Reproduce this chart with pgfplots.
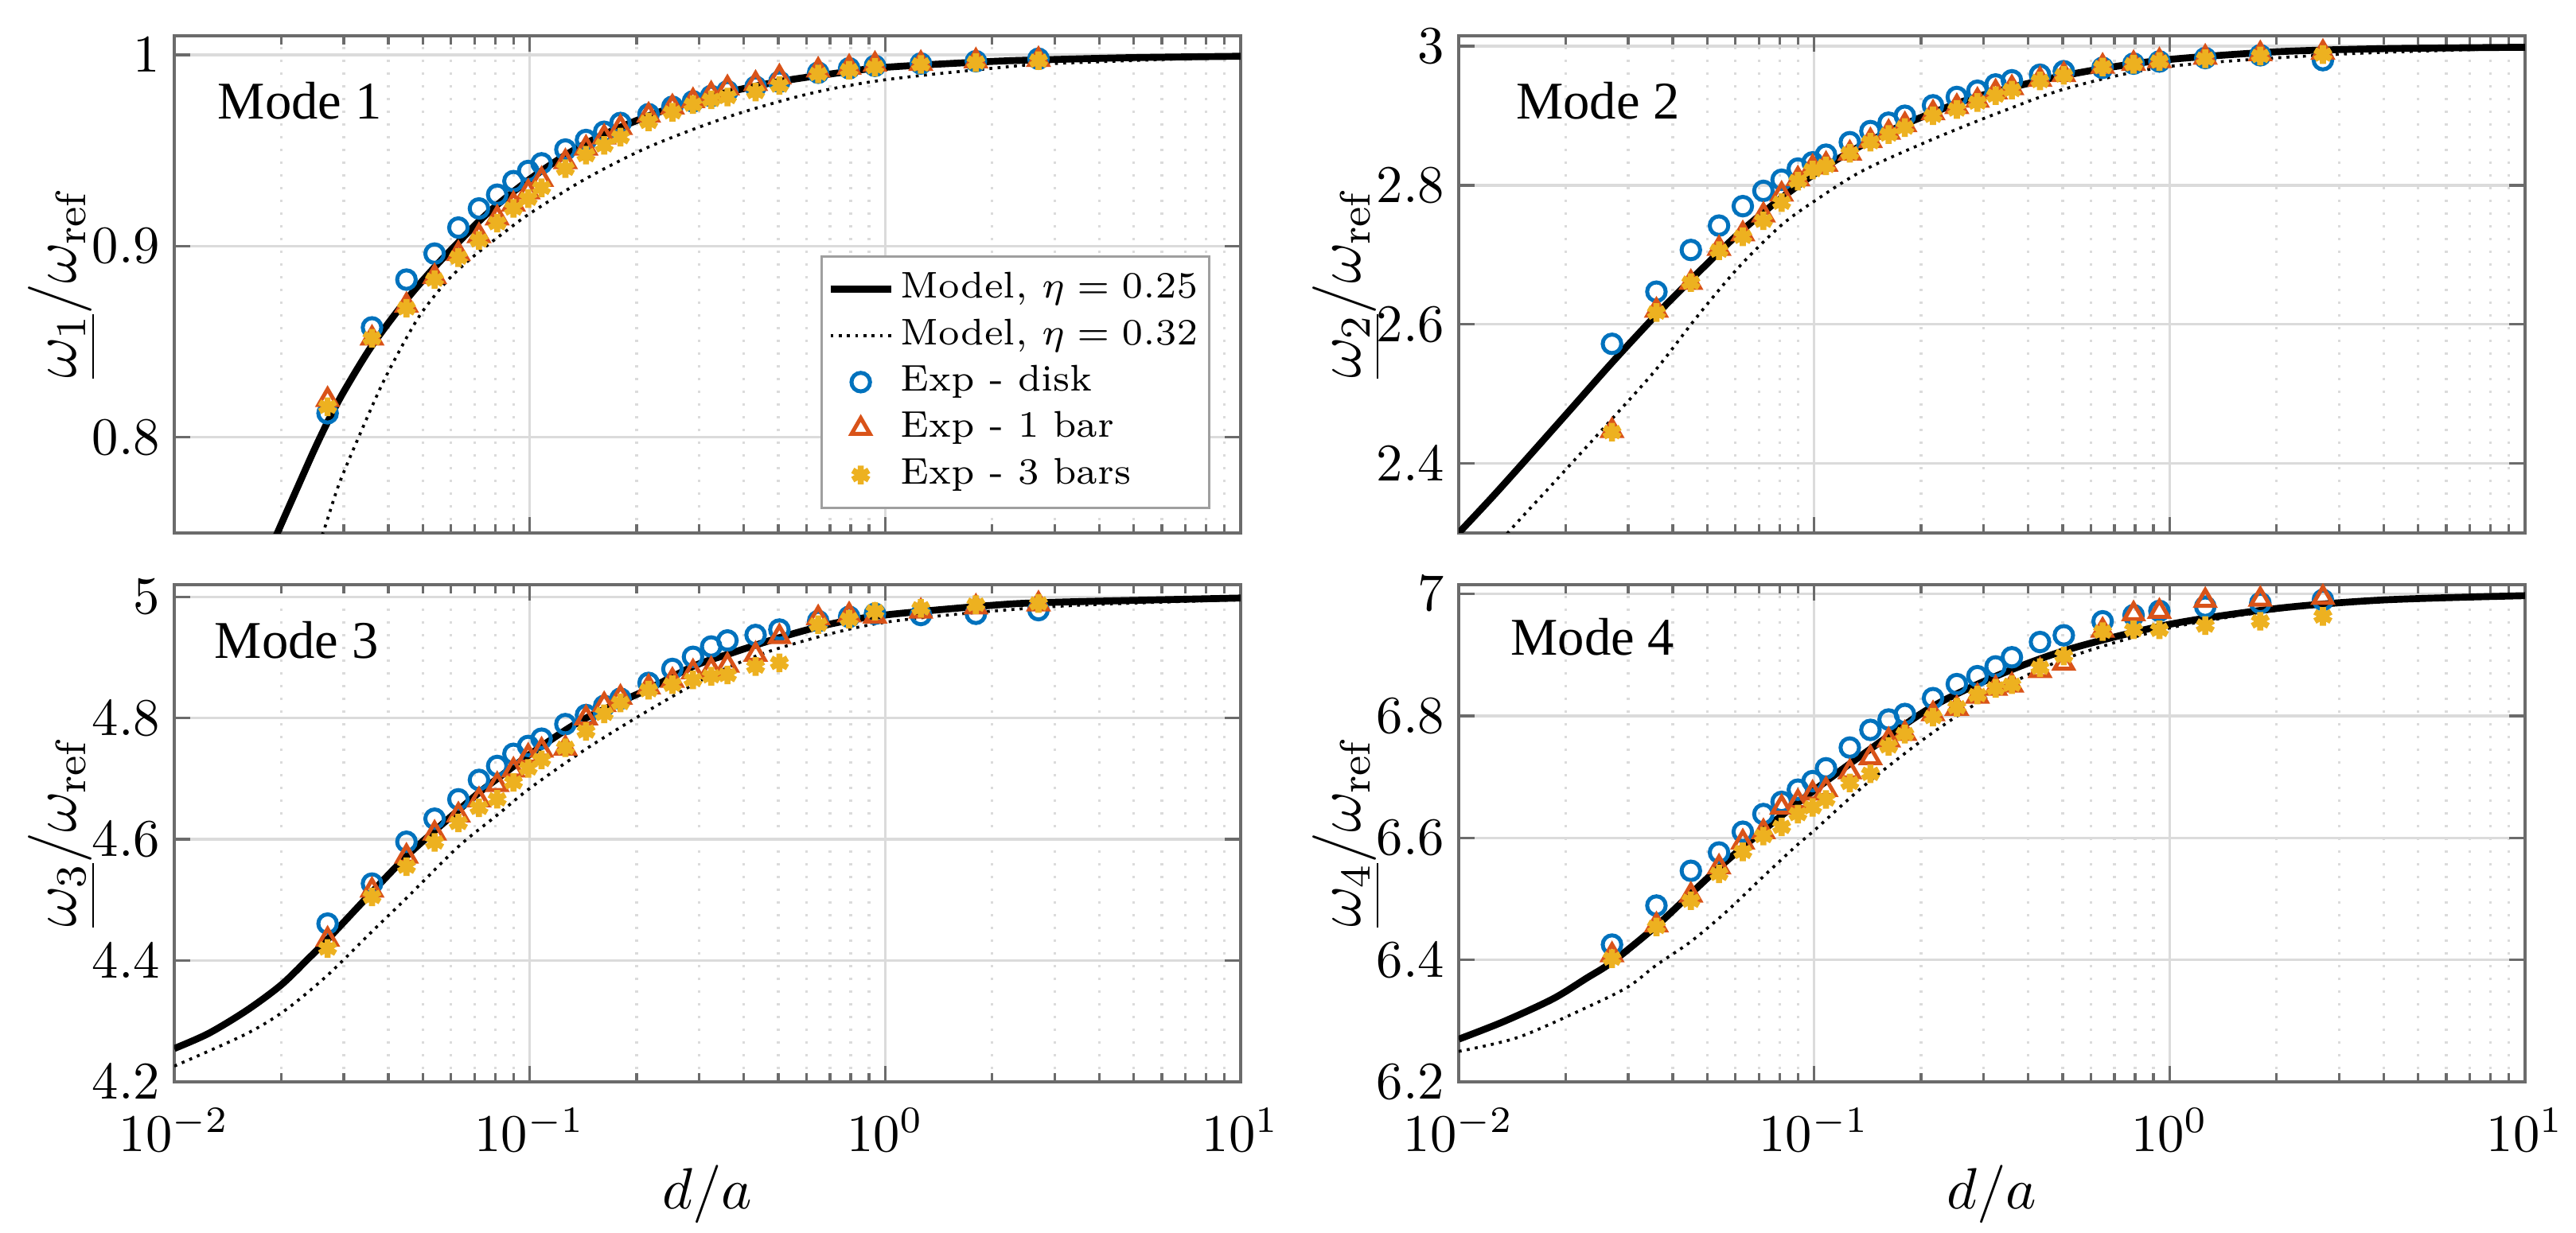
\documentclass[border=0pt]{standalone}
\usepackage{pgfplots}
\pgfplotsset{compat=1.18}
\usepackage{pgfplotstable}
\usepackage{fontspec}
\newfontfamily\modefont{Liberation Serif}
\definecolor{mblue}{rgb}{0,0.447,0.741}
\definecolor{mred}{rgb}{0.85,0.325,0.098}
\definecolor{myel}{rgb}{0.929,0.694,0.125}
\definecolor{gridc}{gray}{0.86}
\definecolor{axc}{gray}{0.42}

\pgfplotstableread{
x disk tri ast
0.027 0.8126 0.8197 0.8160
0.036 0.8575 0.8518 0.8518
0.045 0.8825 0.8690 0.8675
0.054 0.8961 0.8840 0.8825
0.063 0.9097 0.8960 0.8940
0.072 0.9197 0.9054 0.9030
0.081 0.9269 0.9147 0.9120
0.090 0.9340 0.9219 0.9197
0.099 0.9393 0.9283 0.9248
0.108 0.9433 0.9348 0.9305
0.126 0.9505 0.9441 0.9405
0.144 0.9555 0.9512 0.9476
0.162 0.9598 0.9570 0.9527
0.180 0.9644 0.9620 0.9570
0.216 0.9690 0.9684 0.9650
0.252 0.9729 0.9727 0.9700
0.288 0.9757 0.9760 0.9740
0.324 0.9785 0.9795 0.9765
0.360 0.9810 0.9827 0.9780
0.432 0.9834 0.9850 0.9806
0.504 0.9860 0.9884 0.9840
0.648 0.9907 0.9920 0.9900
0.792 0.9930 0.9935 0.9920
0.936 0.9943 0.9950 0.9936
1.260 0.9955 0.9955 0.9950
1.800 0.9967 0.9968 0.9960
2.700 0.9980 0.9975 0.9970
}\modeA

\pgfplotstableread{
x disk tri ast
0.027 2.572 2.447 2.445
0.036 2.647 2.620 2.617
0.045 2.707 2.660 2.660
0.054 2.742 2.709 2.706
0.063 2.770 2.730 2.726
0.072 2.792 2.757 2.749
0.081 2.808 2.787 2.775
0.090 2.824 2.809 2.806
0.099 2.833 2.826 2.822
0.108 2.844 2.830 2.828
0.126 2.862 2.846 2.846
0.144 2.878 2.864 2.862
0.162 2.890 2.876 2.873
0.180 2.900 2.887 2.883
0.216 2.915 2.904 2.900
0.252 2.927 2.913 2.909
0.288 2.936 2.922 2.919
0.324 2.945 2.934 2.929
0.360 2.951 2.940 2.937
0.432 2.959 2.952 2.950
0.504 2.964 2.959 2.958
0.648 2.969 2.971 2.970
0.792 2.975 2.975 2.974
0.936 2.978 2.979 2.978
1.260 2.983 2.984 2.982
1.800 2.987 2.989 2.986
2.700 2.980 2.991 2.988
}\modeB

\pgfplotstableread{
x disk tri ast
0.027 4.461 4.435 4.420
0.036 4.527 4.516 4.505
0.045 4.596 4.572 4.555
0.054 4.634 4.610 4.595
0.063 4.666 4.640 4.627
0.072 4.698 4.665 4.652
0.081 4.721 4.690 4.666
0.090 4.741 4.714 4.694
0.099 4.754 4.737 4.717
0.108 4.766 4.747 4.731
0.126 4.790 4.750 4.751
0.144 4.805 4.800 4.778
0.162 4.820 4.822 4.807
0.180 4.832 4.834 4.825
0.216 4.858 4.851 4.846
0.252 4.881 4.862 4.855
0.288 4.901 4.876 4.863
0.324 4.918 4.880 4.869
0.360 4.928 4.887 4.871
0.432 4.937 4.905 4.885
0.504 4.946 4.934 4.891
0.648 4.960 4.965 4.954
0.792 4.967 4.970 4.963
0.936 4.972 4.968 4.976
1.260 4.970 4.976 4.981
1.800 4.972 4.983 4.987
2.700 4.978 4.988 4.989
}\modeC

\pgfplotstableread{
x disk tri ast
0.027 6.425 6.408 6.402
0.036 6.489 6.457 6.454
0.045 6.546 6.506 6.497
0.054 6.576 6.552 6.541
0.063 6.610 6.593 6.577
0.072 6.639 6.610 6.603
0.081 6.659 6.650 6.618
0.090 6.679 6.659 6.639
0.099 6.693 6.673 6.650
0.108 6.714 6.679 6.663
0.126 6.748 6.708 6.690
0.144 6.777 6.731 6.705
0.162 6.794 6.760 6.750
0.180 6.803 6.771 6.770
0.216 6.829 6.803 6.798
0.252 6.852 6.812 6.814
0.288 6.865 6.832 6.834
0.324 6.881 6.845 6.845
0.360 6.896 6.850 6.851
0.432 6.921 6.874 6.879
0.504 6.932 6.886 6.898
0.648 6.955 6.940 6.938
0.792 6.965 6.967 6.941
0.936 6.972 6.971 6.941
1.260 6.979 6.989 6.948
1.800 6.985 6.991 6.955
2.700 6.990 6.994 6.963
}\modeD

\pgfplotsset{
  mypanel/.style={
    scale only axis, width=201pt, height=93.75pt,
    xmin=0.01, xmax=10,
    xtick={0.01,0.1,1,10},
    minor xtick={0.02,0.03,0.04,0.05,0.06,0.07,0.08,0.09,0.2,0.3,0.4,0.5,0.6,0.7,0.8,0.9,2,3,4,5,6,7,8,9},
    axis line style={axc, line width=0.6pt},
    tick style={axc, line width=0.5pt},
    tick align=inside,
    major tick length=3pt, minor tick length=1.7pt,
    xmajorgrids=true, xminorgrids=true, ymajorgrids=true,
    major grid style={gridc, line width=0.5pt},
    minor grid style={gridc, dotted, line width=0.5pt},
    tick label style={font=\fontsize{10}{12}\selectfont, black},
    xticklabel style={yshift=-1.5pt},
    yticklabel style={inner sep=2.5pt},
    y label style={at={(axis description cs:-0.105,0.5)}, anchor=center, font=\fontsize{12}{14}\selectfont},
    x label style={at={(axis description cs:0.5,-0.226)}, anchor=center, font=\fontsize{11}{13}\selectfont},
  },
  modelA/.style={black, line width=1.3pt, no markers, smooth},
  modelB/.style={black, densely dotted, line width=0.55pt, no markers, smooth},
  expdisk/.style={only marks, mark=o, mblue, mark size=1.75pt, line width=0.75pt},
  expone/.style={only marks, mark=triangle, mred, mark size=2pt, line width=0.75pt},
  expthree/.style={only marks, mark=asterisk, myel, mark size=1.75pt, line width=1.15pt},
}
\tikzset{modelabel/.style={anchor=west, inner sep=0pt, font=\modefont\fontsize{10}{12}\selectfont}}

\begin{document}
\begin{tikzpicture}

% ---------------- Mode 1 ----------------
\begin{semilogxaxis}[mypanel, at={(32.85pt,-6.75pt)}, anchor=north west,
  ymin=0.75, ymax=1.01, ytick={0.8,0.9,1}, xticklabels={},
  ylabel={$\underline{\omega_1}/\omega_{\mathrm{ref}}$},
  legend cell align=left,
  legend image code/.code={\draw[mark repeat=2,mark phase=2] plot coordinates {(0cm,0cm) (0.2cm,0cm) (0.4cm,0cm)};},
  legend style={at={(rel axis cs:0.972,0.048)}, anchor=south east, draw=gray!75, line width=0.5pt, fill=white,
    font=\fontsize{7}{8.5}\selectfont, inner sep=1pt, row sep=-1.6pt, nodes={inner xsep=1.2pt}},
]
\addplot[modelA] coordinates {
(0.018,0.735) (0.0195,0.75) (0.022,0.772) (0.0247,0.793) (0.027,0.808) (0.030,0.824) (0.036,0.848)
(0.045,0.872) (0.054,0.889) (0.063,0.902) (0.072,0.913) (0.0815,0.922) (0.1,0.935)
(0.127,0.948) (0.16,0.958) (0.215,0.968) (0.29,0.976) (0.37,0.981) (0.5,0.986)
(0.7,0.990) (1.0,0.9935) (2,0.9966) (3,0.9976) (5,0.9986) (10,0.9993)};
\addlegendentry{Model, $\eta = 0.25$}
\addplot[modelB] coordinates {
(0.024,0.733) (0.0262,0.75) (0.029,0.775) (0.033,0.80) (0.0385,0.828) (0.045,0.852) (0.050,0.866)
(0.058,0.881) (0.065,0.890) (0.072,0.897) (0.0845,0.907) (0.100,0.917) (0.143,0.935)
(0.217,0.952) (0.367,0.968) (0.621,0.980) (1.0,0.987) (2.0,0.993) (3,0.9955) (10,0.999)};
\addlegendentry{Model, $\eta = 0.32$}
\addplot[expdisk] table[x=x,y=disk] {\modeA};
\addlegendentry{Exp - disk}
\addplot[expone] table[x=x,y=tri] {\modeA};
\addlegendentry{Exp - 1 bar}
\addplot[expthree] table[x=x,y=ast] {\modeA};
\addlegendentry{Exp - 3 bars}
\node[modelabel] at (rel axis cs:0.04,0.87) {Mode 1};
\end{semilogxaxis}

% ---------------- Mode 2 ----------------
\begin{semilogxaxis}[mypanel, at={(274.95pt,-6.75pt)}, anchor=north west,
  ymin=2.3, ymax=3.015, ytick={2.4,2.6,2.8,3}, xticklabels={},
  ylabel={$\underline{\omega_2}/\omega_{\mathrm{ref}}$},
]
\addplot[modelA] coordinates {
(0.01,2.300) (0.0125,2.353) (0.016,2.414) (0.021,2.482) (0.027,2.545) (0.036,2.614)
(0.045,2.664) (0.054,2.704) (0.063,2.736) (0.072,2.761) (0.081,2.782) (0.1,2.816)
(0.126,2.848) (0.163,2.878) (0.217,2.905) (0.29,2.928) (0.436,2.951) (0.65,2.968)
(1,2.981) (2,2.992) (4,2.9965) (10,2.9985)};
\addplot[modelB] coordinates {
(0.0125,2.27) (0.01374,2.30) (0.0185,2.372) (0.0271,2.465) (0.0359,2.535) (0.047,2.612)
(0.0613,2.682) (0.0806,2.742) (0.1,2.777) (0.137,2.821) (0.215,2.866) (0.337,2.906)
(0.527,2.941) (1,2.971) (3.15,2.989) (10,2.997)};
\addplot[expdisk] table[x=x,y=disk] {\modeB};
\addplot[expone] table[x=x,y=tri] {\modeB};
\addplot[expthree] table[x=x,y=ast] {\modeB};
\node[modelabel] at (rel axis cs:0.053,0.87) {Mode 2};
\end{semilogxaxis}

% ---------------- Mode 3 ----------------
\begin{semilogxaxis}[mypanel, at={(32.85pt,-110.25pt)}, anchor=north west,
  ymin=4.2, ymax=5.02, ytick={4.2,4.4,4.6,4.8,5},
  xlabel={$d/a$},
  ylabel={$\underline{\omega_3}/\omega_{\mathrm{ref}}$},
]
\addplot[modelA] coordinates {
(0.01,4.255) (0.0125,4.28) (0.016,4.318) (0.020,4.36) (0.024,4.405) (0.027,4.435)
(0.036,4.513) (0.045,4.572) (0.054,4.614) (0.063,4.648) (0.072,4.677) (0.081,4.70)
(0.1,4.74) (0.126,4.78) (0.144,4.80) (0.18,4.827) (0.216,4.848) (0.29,4.886)
(0.36,4.905) (0.5,4.932) (0.7,4.955) (1,4.970) (2,4.986) (3,4.991) (10,4.998)};
\addplot[modelB] coordinates {
(0.01,4.226) (0.0158,4.278) (0.0205,4.318) (0.027,4.376) (0.036,4.448) (0.045,4.503)
(0.063,4.588) (0.081,4.64) (0.1,4.684) (0.144,4.749) (0.215,4.812) (0.33,4.873)
(0.508,4.916) (1,4.958) (3,4.984) (10,4.995)};
\addplot[expdisk] table[x=x,y=disk] {\modeC};
\addplot[expone] table[x=x,y=tri] {\modeC};
\addplot[expthree] table[x=x,y=ast] {\modeC};
\node[modelabel] at (rel axis cs:0.037,0.888) {Mode 3};
\end{semilogxaxis}

% ---------------- Mode 4 ----------------
\begin{semilogxaxis}[mypanel, at={(274.95pt,-110.25pt)}, anchor=north west,
  ymin=6.2, ymax=7.015, ytick={6.2,6.4,6.6,6.8,7},
  xlabel={$d/a$},
  ylabel={$\underline{\omega_4}/\omega_{\mathrm{ref}}$},
]
\addplot[modelA] coordinates {
(0.01,6.270) (0.0134,6.299) (0.0184,6.336) (0.0229,6.37) (0.0271,6.397) (0.0359,6.455)
(0.0449,6.508) (0.0549,6.555) (0.0728,6.615) (0.1,6.678) (0.138,6.738) (0.215,6.815)
(0.337,6.869) (0.527,6.91) (1,6.95) (2,6.976) (4,6.99) (10,6.997)};
\addplot[modelB] coordinates {
(0.01,6.25) (0.0147,6.273) (0.0229,6.322) (0.03,6.356) (0.0359,6.391) (0.045,6.43)
(0.0564,6.478) (0.07,6.53) (0.0883,6.585) (0.1,6.612) (0.138,6.685) (0.215,6.772)
(0.337,6.845) (0.527,6.897) (1,6.944) (2,6.973) (4,6.988) (10,6.996)};
\addplot[expdisk] table[x=x,y=disk] {\modeD};
\addplot[expone] table[x=x,y=tri] {\modeD};
\addplot[expthree] table[x=x,y=ast] {\modeD};
\node[modelabel] at (rel axis cs:0.048,0.895) {Mode 4};
\end{semilogxaxis}

\pgfresetboundingbox
\path[use as bounding box] (0pt,0pt) rectangle (485.55pt,-232.5pt);
\end{tikzpicture}
\end{document}
